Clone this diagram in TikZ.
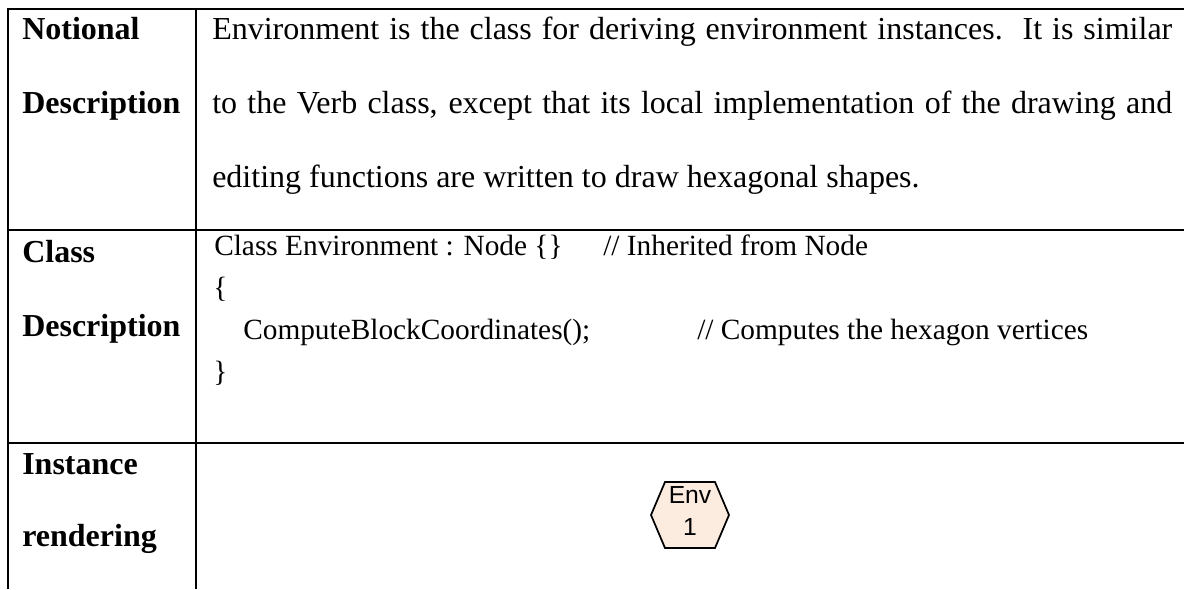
\documentclass[tikz,border=0pt]{standalone}
\usepackage{fontspec}
\setmainfont{Liberation Serif}
\newfontfamily\hexfont{Liberation Sans}
\definecolor{peach}{RGB}{252,236,224}
\begin{document}
\begin{tikzpicture}[x=0.75pt,y=-0.75pt,
  rule/.style={line width=1.5pt},
  head/.style={anchor=base west, inner sep=0pt, font=\fontsize{24}{24}\selectfont\bfseries},
  body/.style={anchor=base west, inner sep=0pt, font=\fontsize{24}{24}\selectfont},
  code/.style={anchor=base west, inner sep=0pt, font=\fontsize{22}{22}\selectfont},
  hexlabel/.style={anchor=base, inner sep=0pt, font=\hexfont\fontsize{18.5}{18.5}\selectfont},
  hexshape/.style={line width=1.3pt, fill=peach, line join=miter}]
\useasboundingbox (0,0) rectangle (1184,589);

% table rules (open on the right and at the bottom)
\coordinate (tl) at (7.5,9);
\coordinate (tr) at (1184,9);
\coordinate (bl) at (7.5,589);
\coordinate (ct) at (195.5,9);
\coordinate (cb) at (195.5,589);
\coordinate (r1l) at (7.5,230);
\coordinate (r1r) at (1184,230);
\coordinate (r2l) at (7.5,443);
\coordinate (r2r) at (1184,443);
\draw[rule] (bl) -- (tl) -- (tr);
\draw[rule] (ct) -- (cb);
\draw[rule] (r1l) -- (r1r);
\draw[rule] (r2l) -- (r2r);

% row 1: notional description
\node[head] (h1a) at (22,39) {Notional};
\node[head] (h1b) at (22,113) {Description};
\node[body] (d1) at (212,39) {\makebox[720pt][s]{Environment is the class for deriving environment instances.\ \ It is similar}};
\node[body] (d2) at (212,113) {\makebox[720pt][s]{to the Verb class, except that its local implementation of the drawing and}};
\node[body] (d3) at (212,187) {editing functions are written to draw hexagonal shapes.};

% row 2: class description
\node[head] (h2a) at (22,262) {Class};
\node[head] (h2b) at (22,336) {Description};
\node[code] (c1) at (214,255) {Class Environment : Node \{\}};
\node[code] (c1r) at (603,255) {// Inherited from Node};
\node[code] (c2) at (213,297) {\{};
\node[code] (c3) at (243,339) {ComputeBlockCoordinates();};
\node[code] (c3r) at (697,339) {// Computes the hexagon vertices};
\node[code] (c4) at (213,381) {\}};

% row 3: instance rendering
\node[head] (h3a) at (22,474) {Instance};
\node[head] (h3b) at (22,546) {rendering};
\draw[hexshape] (651,515) -- (665,482) -- (715,482) -- (729,515) -- (715,548) -- (665,548) -- cycle;
\node[hexlabel] (envA) at (690,503) {Env};
\node[hexlabel] (envB) at (690,535) {1};
\end{tikzpicture}
\end{document}
